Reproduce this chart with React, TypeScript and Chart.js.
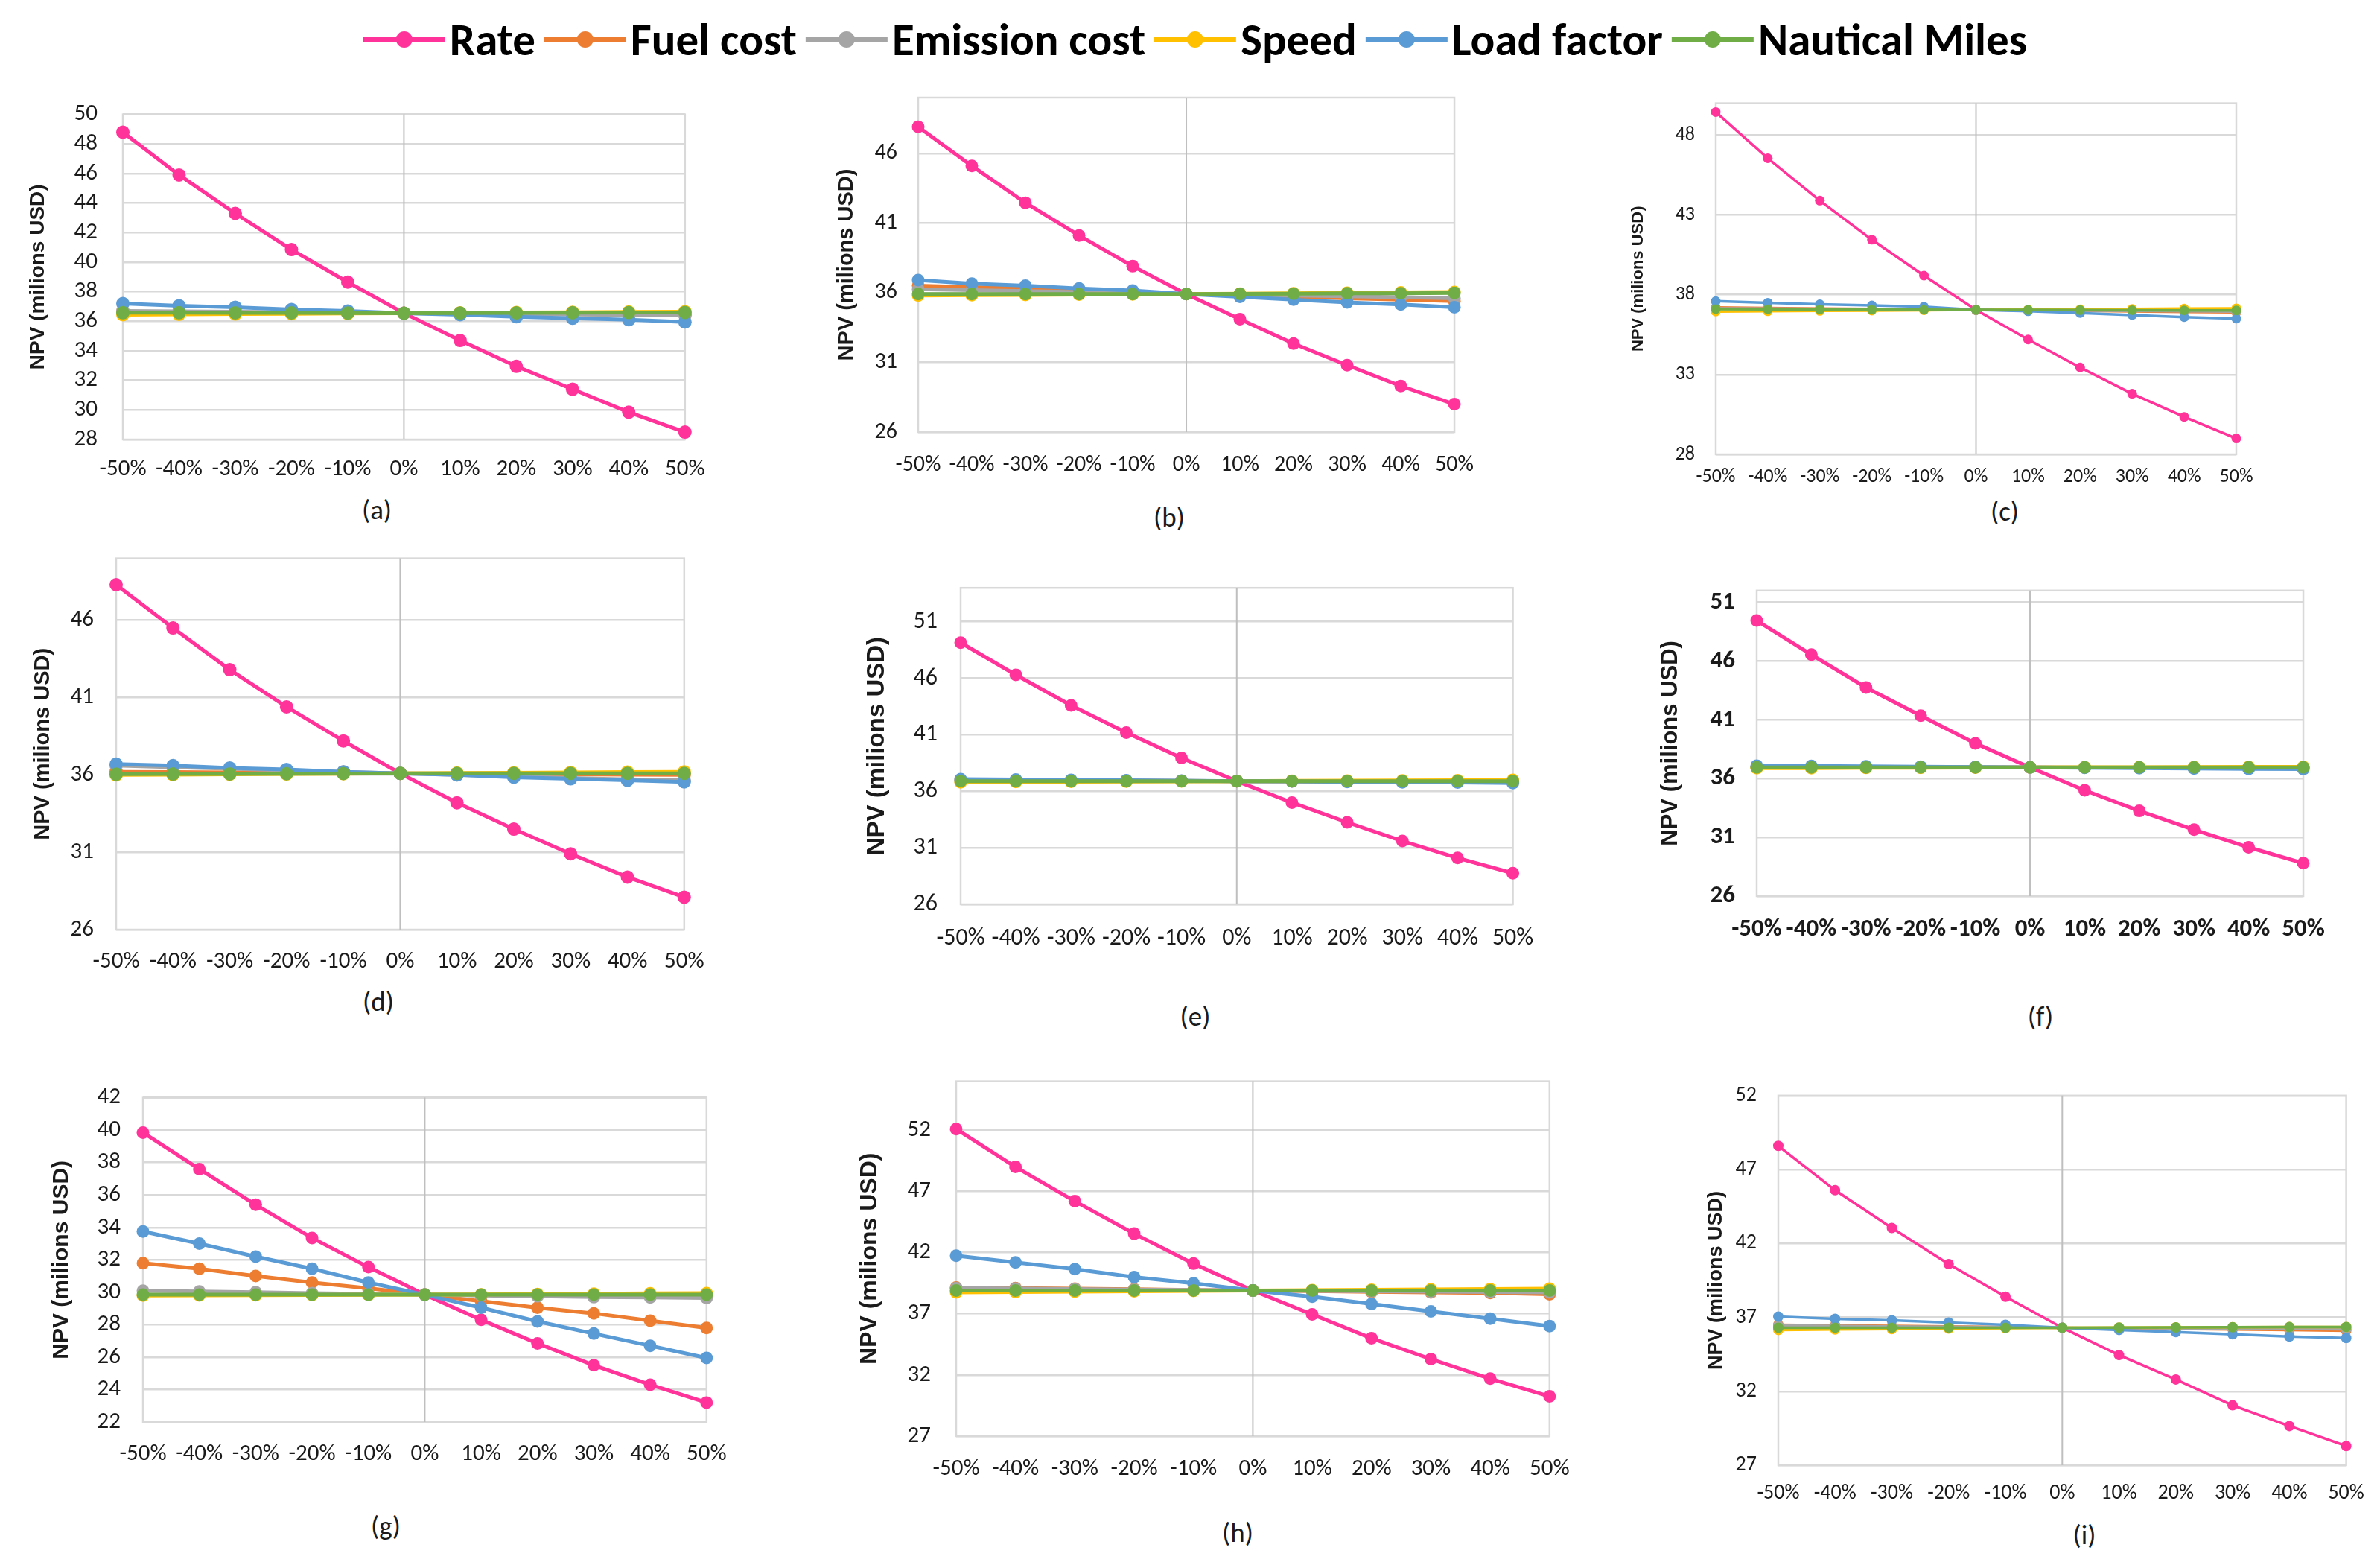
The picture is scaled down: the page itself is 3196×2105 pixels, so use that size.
import React, { useEffect, useRef } from "react";
import { Chart, registerables } from "chart.js";
Chart.register(...registerables);

// ---------- shared categories / series ----------
const CATEGORIES = ["-50%", "-40%", "-30%", "-20%", "-10%", "0%", "10%", "20%", "30%", "40%", "50%"];
const SERIES_NAMES = ["Rate", "Fuel cost", "Emission cost", "Speed", "Load factor", "Nautical Miles"];
const SERIES_COLORS = ["#FF3399", "#ED7D31", "#A5A5A5", "#FFC000", "#5B9BD5", "#70AD47"];
const CAPTIONS = ["(a)", "(b)", "(c)", "(d)", "(e)", "(f)", "(g)", "(h)", "(i)"];
const Y_TITLE = "NPV (milions USD)";

// ---------- panel (a) ----------
const A_RATE = [48.8, 45.9, 43.3, 40.85, 38.65, 36.55, 34.7, 32.95, 31.4, 29.85, 28.5];
const A_FUEL = [36.65, 36.63, 36.61, 36.59, 36.57, 36.55, 36.53, 36.51, 36.49, 36.47, 36.45];
const A_EMIS = [36.7, 36.67, 36.64, 36.61, 36.58, 36.55, 36.52, 36.49, 36.46, 36.43, 36.4];
const A_SPEED = [36.45, 36.47, 36.49, 36.51, 36.53, 36.55, 36.57, 36.59, 36.61, 36.63, 36.65];
const A_LOAD = [37.2, 37.05, 36.95, 36.8, 36.7, 36.55, 36.45, 36.3, 36.2, 36.1, 35.95];
const A_MILES = [36.58, 36.58, 36.57, 36.57, 36.56, 36.55, 36.56, 36.57, 36.58, 36.59, 36.6];
const A_TICKS = [28, 30, 32, 34, 36, 38, 40, 42, 44, 46, 48, 50];

// ---------- panel (b) ----------
const B_RATE = [47.9, 45.1, 42.45, 40.1, 37.9, 35.9, 34.1, 32.35, 30.8, 29.3, 28.0];
const B_FUEL = [36.5, 36.4, 36.3, 36.2, 36.05, 35.9, 35.8, 35.7, 35.6, 35.5, 35.4];
const B_EMIS = [36.25, 36.18, 36.12, 36.05, 35.98, 35.9, 35.85, 35.8, 35.74, 35.68, 35.6];
const B_SPEED = [35.8, 35.82, 35.84, 35.86, 35.88, 35.9, 35.93, 35.96, 35.99, 36.02, 36.05];
const B_LOAD = [36.9, 36.65, 36.5, 36.3, 36.15, 35.9, 35.7, 35.5, 35.3, 35.15, 34.95];
const B_MILES = [35.9, 35.9, 35.9, 35.9, 35.9, 35.9, 35.92, 35.93, 35.95, 35.96, 35.98];
const B_TICKS = [26, 31, 36, 41, 46];

// ---------- panel (c) ----------
const C_RATE = [49.45, 46.55, 43.9, 41.45, 39.2, 37.05, 35.2, 33.45, 31.8, 30.35, 29.0];
const C_FUEL = [37.2, 37.17, 37.14, 37.11, 37.08, 37.05, 37.02, 36.99, 36.96, 36.93, 36.9];
const C_EMIS = [37.15, 37.13, 37.11, 37.09, 37.07, 37.05, 37.03, 37.01, 36.99, 36.97, 36.95];
const C_SPEED = [36.95, 36.97, 36.99, 37.01, 37.03, 37.05, 37.07, 37.09, 37.11, 37.13, 37.15];
const C_LOAD = [37.6, 37.5, 37.4, 37.33, 37.25, 37.05, 36.97, 36.86, 36.73, 36.6, 36.5];
const C_MILES = [37.1, 37.09, 37.08, 37.07, 37.06, 37.05, 37.05, 37.04, 37.03, 37.02, 37.02];
const C_TICKS = [28, 33, 38, 43, 48];

// ---------- panel (d) ----------
const D_RATE = [48.3, 45.5, 42.8, 40.4, 38.2, 36.1, 34.2, 32.5, 30.9, 29.4, 28.1];
const D_FUEL = [36.2, 36.18, 36.16, 36.14, 36.12, 36.1, 36.08, 36.06, 36.04, 36.02, 36.0];
const D_EMIS = [36.6, 36.5, 36.4, 36.3, 36.2, 36.1, 36.0, 35.9, 35.8, 35.72, 35.65];
const D_SPEED = [36.0, 36.02, 36.04, 36.06, 36.08, 36.1, 36.12, 36.14, 36.16, 36.18, 36.2];
const D_LOAD = [36.7, 36.6, 36.45, 36.35, 36.2, 36.1, 36.0, 35.85, 35.75, 35.65, 35.55];
const D_MILES = [36.05, 36.06, 36.07, 36.08, 36.09, 36.1, 36.1, 36.1, 36.1, 36.1, 36.1];
const D_TICKS = [26, 31, 36, 41, 46];

// ---------- panel (e) ----------
const E_RATE = [49.15, 46.3, 43.6, 41.2, 38.95, 36.9, 35.0, 33.25, 31.6, 30.1, 28.75];
const E_FUEL = [37.0, 36.98, 36.96, 36.94, 36.92, 36.9, 36.88, 36.86, 36.84, 36.82, 36.8];
const E_EMIS = [36.95, 36.94, 36.93, 36.92, 36.91, 36.9, 36.89, 36.88, 36.87, 36.86, 36.85];
const E_SPEED = [36.8, 36.82, 36.84, 36.86, 36.88, 36.9, 36.92, 36.94, 36.96, 36.98, 37.0];
const E_LOAD = [37.07, 37.04, 37.0, 36.97, 36.94, 36.9, 36.87, 36.83, 36.8, 36.77, 36.73];
const E_MILES = [36.9, 36.9, 36.9, 36.9, 36.9, 36.9, 36.9, 36.9, 36.9, 36.9, 36.9];
const E_TICKS = [26, 31, 36, 41, 46, 51];

// ---------- panel (f) ----------
const F_RATE = [49.45, 46.55, 43.75, 41.35, 39.0, 36.95, 35.0, 33.25, 31.65, 30.15, 28.8];
const F_FUEL = [37.0, 36.99, 36.98, 36.97, 36.96, 36.95, 36.94, 36.93, 36.92, 36.91, 36.9];
const F_EMIS = [36.98, 36.97, 36.97, 36.96, 36.96, 36.95, 36.94, 36.94, 36.93, 36.93, 36.92];
const F_SPEED = [36.88, 36.89, 36.91, 36.92, 36.94, 36.95, 36.96, 36.97, 36.98, 36.99, 37.0];
const F_LOAD = [37.1, 37.07, 37.04, 37.01, 36.98, 36.95, 36.92, 36.89, 36.86, 36.83, 36.8];
const F_MILES = [36.95, 36.95, 36.95, 36.95, 36.95, 36.95, 36.95, 36.95, 36.95, 36.95, 36.95];
const F_TICKS = [26, 31, 36, 41, 46, 51];

// ---------- panel (g) ----------
const G_RATE = [39.85, 37.6, 35.4, 33.35, 31.55, 29.85, 28.3, 26.85, 25.5, 24.3, 23.2];
const G_FUEL = [31.8, 31.45, 31.0, 30.6, 30.25, 29.85, 29.45, 29.05, 28.7, 28.25, 27.8];
const G_EMIS = [30.1, 30.05, 30.0, 29.95, 29.9, 29.85, 29.8, 29.75, 29.7, 29.68, 29.65];
const G_SPEED = [29.8, 29.81, 29.82, 29.83, 29.84, 29.85, 29.87, 29.89, 29.91, 29.93, 29.95];
const G_LOAD = [33.75, 33.0, 32.2, 31.45, 30.6, 29.85, 29.05, 28.2, 27.45, 26.7, 25.95];
const G_MILES = [29.85, 29.85, 29.85, 29.85, 29.85, 29.85, 29.85, 29.85, 29.86, 29.86, 29.86];
const G_TICKS = [22, 24, 26, 28, 30, 32, 34, 36, 38, 40, 42];

// ---------- panel (h) ----------
const H_RATE = [52.1, 49.0, 46.2, 43.55, 41.1, 38.9, 36.95, 35.0, 33.3, 31.7, 30.25];
const H_FUEL = [39.15, 39.1, 39.05, 39.0, 38.95, 38.9, 38.85, 38.8, 38.75, 38.7, 38.6];
const H_EMIS = [39.1, 39.07, 39.03, 38.98, 38.94, 38.9, 38.87, 38.84, 38.81, 38.78, 38.75];
const H_SPEED = [38.75, 38.78, 38.81, 38.84, 38.87, 38.9, 38.93, 38.96, 38.99, 39.02, 39.05];
const H_LOAD = [41.75, 41.2, 40.65, 40.0, 39.5, 38.9, 38.4, 37.8, 37.2, 36.6, 36.0];
const H_MILES = [38.9, 38.9, 38.9, 38.9, 38.9, 38.9, 38.9, 38.9, 38.9, 38.9, 38.9];
const H_TICKS = [27, 32, 37, 42, 47, 52];

// ---------- panel (i) ----------
const I_RATE = [48.6, 45.6, 43.05, 40.6, 38.4, 36.3, 34.45, 32.8, 31.05, 29.65, 28.3];
const I_FUEL = [36.5, 36.46, 36.42, 36.38, 36.34, 36.3, 36.26, 36.22, 36.18, 36.14, 36.1];
const I_EMIS = [36.45, 36.42, 36.39, 36.36, 36.33, 36.3, 36.28, 36.26, 36.24, 36.22, 36.2];
const I_SPEED = [36.15, 36.18, 36.21, 36.24, 36.27, 36.3, 36.31, 36.32, 36.33, 36.34, 36.35];
const I_LOAD = [37.05, 36.9, 36.8, 36.65, 36.5, 36.3, 36.15, 36.0, 35.85, 35.7, 35.6];
const I_MILES = [36.3, 36.3, 36.3, 36.3, 36.3, 36.3, 36.31, 36.32, 36.33, 36.34, 36.35];
const I_TICKS = [27, 32, 37, 42, 47, 52];

// ---------- fonts ----------
const NARROW = "Carlito, 'Liberation Sans Narrow', 'Arial Narrow', 'DejaVu Sans Condensed', 'Open Sans', sans-serif";
const TITLE_FONT = "'Liberation Sans', Arial, sans-serif";

// ---------- panel definitions (data + layout) ----------
type PanelDef = {
  series: number[][];
  ticks: number[];
  min: number;
  max: number;
  L: number; T: number; R: number; B: number;
  titleX: number; tickRight: number; xLab: number;
  capX: number; capY: number;
  tickSize: number; titleSize: number; bold: boolean;
  r: number; lw: number;
};

const PANELS: PanelDef[] = [
  { series: [A_RATE, A_FUEL, A_EMIS, A_SPEED, A_LOAD, A_MILES], ticks: A_TICKS, min: 28, max: 50,
    L: 165, T: 121, R: 926, B: 590, titleX: 51, tickRight: 131, xLab: 630, capX: 506, capY: 685,
    tickSize: 31, titleSize: 28, bold: false, r: 9, lw: 5 },
  { series: [B_RATE, B_FUEL, B_EMIS, B_SPEED, B_LOAD, B_MILES], ticks: B_TICKS, min: 26, max: 50,
    L: 1233, T: 105, R: 1963, B: 580, titleX: 1137, tickRight: 1205, xLab: 624, capX: 1570, capY: 695,
    tickSize: 30, titleSize: 29, bold: false, r: 8.5, lw: 5 },
  { series: [C_RATE, C_FUEL, C_EMIS, C_SPEED, C_LOAD, C_MILES], ticks: C_TICKS, min: 28, max: 50,
    L: 2304, T: 115, R: 3003, B: 610, titleX: 2200, tickRight: 2276, xLab: 640, capX: 2692, capY: 687,
    tickSize: 26, titleSize: 22, bold: false, r: 6.5, lw: 3.5 },
  { series: [D_RATE, D_FUEL, D_EMIS, D_SPEED, D_LOAD, D_MILES], ticks: D_TICKS, min: 26, max: 50,
    L: 156, T: 721, R: 928, B: 1248, titleX: 58, tickRight: 126, xLab: 1291, capX: 508, capY: 1345,
    tickSize: 31, titleSize: 29, bold: false, r: 9, lw: 5 },
  { series: [E_RATE, E_FUEL, E_EMIS, E_SPEED, E_LOAD, E_MILES], ticks: E_TICKS, min: 26, max: 54,
    L: 1290, T: 759, R: 2044, B: 1214, titleX: 1178, tickRight: 1259, xLab: 1260, capX: 1605, capY: 1365,
    tickSize: 32, titleSize: 33, bold: false, r: 8.5, lw: 5 },
  { series: [F_RATE, F_FUEL, F_EMIS, F_SPEED, F_LOAD, F_MILES], ticks: F_TICKS, min: 26, max: 52,
    L: 2359, T: 764, R: 3105, B: 1203, titleX: 2244, tickRight: 2330, xLab: 1248, capX: 2740, capY: 1365,
    tickSize: 33, titleSize: 31, bold: true, r: 8.5, lw: 5 },
  { series: [G_RATE, G_FUEL, G_EMIS, G_SPEED, G_LOAD, G_MILES], ticks: G_TICKS, min: 22, max: 42,
    L: 192, T: 1445, R: 958, B: 1909, titleX: 83, tickRight: 162, xLab: 1952, capX: 518, capY: 2049,
    tickSize: 31, titleSize: 30, bold: false, r: 8.5, lw: 5 },
  { series: [H_RATE, H_FUEL, H_EMIS, H_SPEED, H_LOAD, H_MILES], ticks: H_TICKS, min: 27, max: 56,
    L: 1284, T: 1419, R: 2091, B: 1928, titleX: 1168, tickRight: 1250, xLab: 1972, capX: 1662, capY: 2058,
    tickSize: 31, titleSize: 32, bold: false, r: 8.5, lw: 5 },
  { series: [I_RATE, I_FUEL, I_EMIS, I_SPEED, I_LOAD, I_MILES], ticks: I_TICKS, min: 27, max: 52,
    L: 2388, T: 1445, R: 3154, B: 1967, titleX: 2304, tickRight: 2359, xLab: 2005, capX: 2799, capY: 2061,
    tickSize: 28, titleSize: 27, bold: false, r: 7, lw: 3.5 },
];

const PAD_TOP = 20;
const PAD_RIGHT = 42;

function geometry(p: PanelDef) {
  const canvasLeft = Math.round(p.titleX - 0.6 * p.titleSize);
  const yW = p.L - canvasLeft;
  const yPad = p.L - p.tickRight;
  const canvasTop = p.T - PAD_TOP;
  const xPad = p.xLab - p.B - 0.6 * p.tickSize;
  const xH = Math.ceil(xPad + 1.2 * p.tickSize + 6);
  const height = PAD_TOP + (p.B - p.T) + xH;
  const width = p.R + PAD_RIGHT - canvasLeft;
  return { canvasLeft, canvasTop, yW, yPad, xPad, xH, width, height };
}

const plotBorder = {
  id: "plotBorder",
  beforeDatasetsDraw(chart: any) {
    const { ctx, chartArea } = chart;
    ctx.save();
    ctx.strokeStyle = "#D9D9D9";
    ctx.lineWidth = 2.5;
    ctx.strokeRect(chartArea.left, chartArea.top, chartArea.right - chartArea.left, chartArea.bottom - chartArea.top);
    // vertical axis line at 0%
    const xs = chart.scales.x;
    const x0 = xs.getPixelForValue(5);
    ctx.strokeStyle = "#BFBFBF";
    ctx.lineWidth = 2;
    ctx.beginPath();
    ctx.moveTo(x0, chartArea.top);
    ctx.lineTo(x0, chartArea.bottom);
    ctx.stroke();
    ctx.restore();
  },
};

function Panel({ p, caption }: { p: PanelDef; caption: string }) {
  const ref = useRef<HTMLCanvasElement>(null);
  const g = geometry(p);
  useEffect(() => {
    if (!ref.current) return;
    const tickFont = { family: NARROW, size: p.tickSize, weight: p.bold ? "bold" : "normal" } as any;
    const chart = new Chart(ref.current, {
      type: "line",
      data: {
        labels: CATEGORIES,
        datasets: SERIES_NAMES.map((name, i) => ({
          label: name,
          data: p.series[i],
          borderColor: SERIES_COLORS[i],
          backgroundColor: SERIES_COLORS[i],
          pointBackgroundColor: SERIES_COLORS[i],
          pointBorderColor: SERIES_COLORS[i],
          pointBorderWidth: 0,
          pointRadius: p.r,
          pointHoverRadius: p.r,
          borderWidth: p.lw,
          tension: 0,
          fill: false,
          clip: false as any,
          order: 6 - i,
        })),
      },
      options: {
        animation: false,
        responsive: false,
        devicePixelRatio: 1,
        events: [],
        layout: { padding: { top: PAD_TOP, right: PAD_RIGHT, bottom: 0, left: 0 } },
        plugins: {
          legend: { display: false },
          tooltip: { enabled: false },
          title: { display: false },
        },
        scales: {
          x: {
            type: "category",
            offset: false,
            grid: { display: false, drawTicks: false },
            border: { display: false },
            ticks: {
              autoSkip: false,
              maxRotation: 0,
              minRotation: 0,
              padding: g.xPad,
              color: "#1a1a1a",
              font: tickFont,
            },
            afterFit: (s: any) => {
              s.height = g.xH;
            },
          },
          y: {
            type: "linear",
            min: p.min,
            max: p.max,
            grid: { color: "#D9D9D9", lineWidth: 2.5, drawTicks: false },
            border: { display: false },
            ticks: {
              autoSkip: false,
              padding: g.yPad,
              color: "#1a1a1a",
              font: tickFont,
              callback: (v: any) => String(v),
            },
            afterBuildTicks: (s: any) => {
              s.ticks = p.ticks.map((v) => ({ value: v }));
            },
            title: {
              display: true,
              text: Y_TITLE,
              color: "#1a1a1a",
              font: { family: TITLE_FONT, size: p.titleSize, weight: "bold" },
              padding: 0,
            },
            afterFit: (s: any) => {
              s.width = g.yW;
            },
          },
        },
      } as any,
      plugins: [plotBorder],
    });
    return () => chart.destroy();
  }, []);
  return (
    <>
      <canvas
        ref={ref}
        width={g.width}
        height={g.height}
        style={{ position: "absolute", left: g.canvasLeft, top: g.canvasTop, width: g.width, height: g.height }}
      />
      <div
        style={{
          position: "absolute",
          left: p.capX - 100,
          top: p.capY - 22,
          width: 200,
          height: 44,
          lineHeight: "44px",
          textAlign: "center",
          fontFamily: NARROW,
          fontSize: 37,
          color: "#1a1a1a",
        }}
      >
        {caption}
      </div>
    </>
  );
}

function Legend() {
  return (
    <div
      style={{
        position: "absolute",
        left: 1605,
        top: 53,
        transform: "translate(-50%, -50%)",
        display: "flex",
        alignItems: "center",
        whiteSpace: "nowrap",
        fontFamily: NARROW,
        fontWeight: "bold",
        fontSize: 61,
        color: "#000",
      }}
    >
      {SERIES_NAMES.map((name, i) => (
        <div key={name} style={{ display: "flex", alignItems: "center", marginLeft: i === 0 ? 0 : 12 }}>
          <div style={{ position: "relative", width: 110, height: 24 }}>
            <div
              style={{ position: "absolute", left: 0, top: 9, width: 110, height: 7, background: SERIES_COLORS[i] }}
            />
            <div
              style={{
                position: "absolute",
                left: 44,
                top: 1,
                width: 22,
                height: 22,
                borderRadius: 11,
                background: SERIES_COLORS[i],
              }}
            />
          </div>
          <span style={{ marginLeft: 6 }}>{name}</span>
        </div>
      ))}
    </div>
  );
}

export default function App() {
  return (
    <div style={{ position: "absolute", left: 0, top: 0, width: 3196, height: 2105, background: "#fff", overflow: "hidden" }}>
      <Legend />
      {PANELS.map((p, i) => (
        <Panel key={i} p={p} caption={CAPTIONS[i]} />
      ))}
    </div>
  );
}
